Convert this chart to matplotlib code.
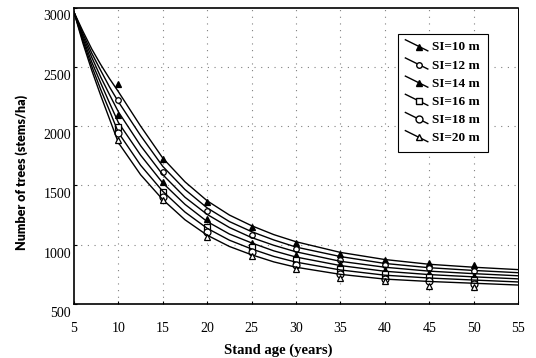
import matplotlib
matplotlib.use('Agg')
from matplotlib import pyplot as plt
from matplotlib.lines import Line2D
from matplotlib.legend_handler import HandlerLine2D
from matplotlib.transforms import ScaledTranslation

# fitted curves
ages = [5, 6, 7, 8, 9, 10, 12.5, 15, 17.5, 20, 22.5, 25, 27.5, 30, 35, 40, 45, 50, 55]
si10 = [2960, 2800, 2650, 2520, 2400, 2290, 2000, 1730, 1530, 1370, 1250, 1160, 1085, 1025, 935, 875, 835, 810, 790]
si12 = [2960, 2780, 2615, 2470, 2330, 2205, 1920, 1660, 1465, 1310, 1195, 1110, 1040, 980, 900, 842, 806, 783, 764]
si14 = [2960, 2760, 2580, 2415, 2265, 2120, 1835, 1590, 1400, 1255, 1145, 1060, 995, 940, 860, 810, 777, 756, 738]
si16 = [2960, 2740, 2540, 2365, 2195, 2030, 1755, 1520, 1340, 1195, 1090, 1015, 948, 896, 824, 776, 748, 729, 712]
si18 = [2960, 2720, 2505, 2310, 2130, 1945, 1670, 1450, 1275, 1138, 1038, 964, 901, 853, 787, 743, 719, 702, 686]
si20 = [2960, 2700, 2470, 2260, 2060, 1860, 1590, 1380, 1210, 1080, 985, 915, 855, 810, 750, 710, 690, 675, 660]

# observed points
obs_ages = [10, 15, 20, 25, 30, 35, 40, 45, 50]
obs10 = [2355, 1723, 1363, 1152, 1015, 922, 875, 845, 825]
obs12 = [2220, 1616, 1287, 1082, 962, 875, 830, 800, 780]
obs14 = [2094, 1531, 1214, 1012, 914, 835, 790, 760, 740]
obs16 = [1995, 1447, 1152, 983, 871, 795, 750, 725, 705]
obs18 = [1939, 1405, 1110, 941, 829, 755, 715, 690, 670]
obs20 = [1883, 1377, 1068, 905, 793, 720, 690, 655, 640]

labels = ['SI=10 m', 'SI=12 m', 'SI=14 m', 'SI=16 m', 'SI=18 m', 'SI=20 m']
curves = [si10, si12, si14, si16, si18, si20]
observed = [obs10, obs12, obs14, obs16, obs18, obs20]
markers = ['^', 'o', '^', 's', 'o', '^']
faces = ['k', 'white', 'k', 'white', 'white', 'white']
sizes = [4.5, 4, 4.5, 4, 5, 4.5]


class SlantHandler(HandlerLine2D):
    # legend handle drawn as a sloping line with the marker on it
    def create_artists(self, legend, orig_handle, xdescent, ydescent,
                       width, height, fontsize, trans):
        x0, x1 = -xdescent, -xdescent + width
        y0, y1 = -ydescent + height * 1.15, -ydescent - height * 0.05
        ln = Line2D([x0, x1], [y0, y1], color='k', lw=1)
        mk = Line2D([x0 + 0.62 * width], [y0 + 0.62 * (y1 - y0)],
                    marker=orig_handle.get_marker(),
                    ms=orig_handle.get_markersize(),
                    mfc=orig_handle.get_markerfacecolor(), mec='k',
                    linestyle='none')
        ln.set_transform(trans)
        mk.set_transform(trans)
        return [ln, mk]


fig = plt.figure(figsize=(5.36, 3.58), dpi=100)
ax = fig.add_axes([74 / 536, 1 - 304 / 358, 444 / 536, 296.5 / 358])

handles = []
for curve, obs, m, fc, ms, lab in zip(curves, observed, markers, faces, sizes, labels):
    ax.plot(ages, curve, color='k', lw=1.0)
    ax.plot(obs_ages, obs, linestyle='none', marker=m, ms=ms, mfc=fc,
            mec='k', mew=0.9)
    handles.append(Line2D([], [], color='k', marker=m, ms=ms, mfc=fc, mec='k'))

ax.set_xlim(5, 55)
ax.set_ylim(500, 3000)
ax.set_xticks(range(5, 60, 5))
ax.set_yticks(range(500, 3001, 500))

ax.grid(True, color='0.5', linestyle=(0, (1, 5)), lw=0.8)
for t in [ax.xaxis.get_gridlines()[0], ax.xaxis.get_gridlines()[-1],
          ax.yaxis.get_gridlines()[0], ax.yaxis.get_gridlines()[-1]]:
    t.set_visible(False)

ax.tick_params(direction='in', length=2, width=0.8, labelsize=10, pad=2)
ax.tick_params(axis='x', pad=13)
for lbl in ax.get_xticklabels() + ax.get_yticklabels():
    lbl.set_fontfamily('Liberation Serif')
off = ScaledTranslation(0, -0.08, fig.dpi_scale_trans)
for lbl in ax.get_yticklabels():
    lbl.set_transform(lbl.get_transform() + off)

for side in ['left', 'bottom', 'top']:
    ax.spines[side].set_linewidth(1.2)
ax.spines['right'].set_linewidth(0.7)

leg = ax.legend(handles, labels, handler_map={Line2D: SlantHandler()},
                loc='upper left', bbox_to_anchor=(0.73, 0.911),
                borderaxespad=0, fancybox=False, framealpha=1,
                edgecolor='k', handlelength=1.7, handletextpad=0.35,
                labelspacing=0.45, borderpad=0.55,
                prop={'family': 'Liberation Serif', 'weight': 'bold', 'size': 9.5})
leg.get_frame().set_linewidth(0.8)

fig.text(278 / 536, 1 - 350 / 358, 'Stand age (years)', ha='center',
         va='center', family='Liberation Serif', weight='bold', fontsize=10.5)
fig.text(22 / 536, 1 - 172 / 358, 'Number of trees (stems/ha)', ha='center',
         va='center', rotation=90, family='Lato', weight='heavy',
         fontsize=9)

fig.savefig('out.png', dpi=100)
